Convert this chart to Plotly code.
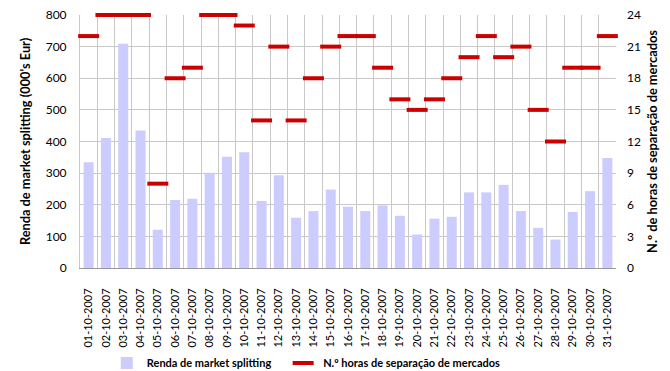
import plotly.graph_objects as go

dates = [f"{d:02d}-10-2007" for d in range(1, 32)]
renda = [334, 411, 709, 435, 121, 215, 219, 301, 352, 366, 212, 293, 159, 180, 248,
         194, 180, 198, 165, 106, 156, 162, 239, 239, 263, 180, 127, 90, 177, 243, 348]
horas = [22, 24, 24, 24, 8, 18, 19, 24, 24, 23, 14, 21, 14, 18, 21,
         22, 22, 19, 16, 15, 16, 18, 20, 22, 20, 21, 15, 12, 19, 19, 22]

font = "Lato, Open Sans, sans-serif"
fig = go.Figure()
fig.add_trace(go.Bar(x=dates, y=renda, name="<b>Renda de market splitting</b>",
                     marker=dict(color="#ccccff", line=dict(width=0)), width=0.58,
                     legend="legend"))
fig.add_trace(go.Scatter(x=dates, y=horas, name="<b>N.º horas de separação de mercados</b>",
                         yaxis="y2", mode="markers", legend="legend2", cliponaxis=False,
                         marker=dict(symbol="line-ew-open", size=15,
                                     line=dict(width=4, color="#cc0000"), color="#cc0000")))

leg_common = dict(orientation="h", y=-0.375, yanchor="middle", xanchor="left",
                  font=dict(size=11), itemwidth=30, bgcolor="rgba(0,0,0,0)")
fig.update_layout(
    width=670, height=371,
    margin=dict(l=80, r=54, t=15, b=103, autoexpand=False),
    plot_bgcolor="white", paper_bgcolor="white",
    font=dict(family=font, size=12, color="#000"),
    showlegend=True,
    legend=dict(x=0.05, **leg_common),
    legend2=dict(x=0.379, **leg_common),
    xaxis=dict(type="category", range=[-0.5, 30.5], tickangle=-90, tickson="boundaries",
               showgrid=True, gridcolor="#c8c8c8", gridwidth=1, ticks="", showline=True,
               linecolor="#999", mirror=False, layer="below traces",
               tickfont=dict(size=11), automargin=False, ticklabelstandoff=15),
    yaxis=dict(range=[0, 800], dtick=100, showgrid=True, gridcolor="#c8c8c8",
               showline=True, linecolor="#c8c8c8", zeroline=False, ticks="",
               layer="below traces",
               automargin=False, tickfont=dict(size=12), ticklabelstandoff=10,
               title=dict(text="<b>Renda de market splitting (000's Eur)</b>",
                          font=dict(size=12.8), standoff=12)),
    yaxis2=dict(range=[0, 24], dtick=3, overlaying="y", side="right", showgrid=False,
                zeroline=False, ticks="", automargin=False, tickfont=dict(size=12),
                ticklabelstandoff=10,
                title=dict(text="<b>N.º de horas de separação de mercados</b>",
                           font=dict(size=12.8), standoff=8)),
)
fig.write_html("out.html", post_script="document.body.style.margin='0';",
               config={"displayModeBar": False})
